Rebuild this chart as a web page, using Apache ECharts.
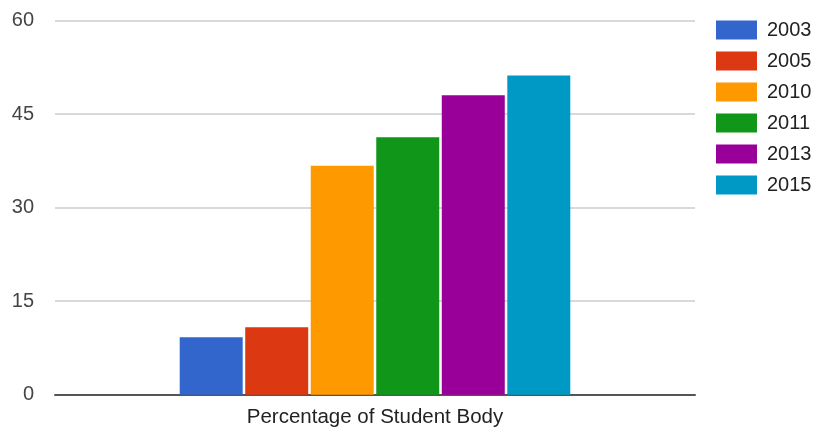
<!DOCTYPE html>
<html>
<head>
<meta charset="utf-8">
<style>
  html, body { margin: 0; padding: 0; background: #ffffff; }
  #chart { width: 816px; height: 428px; }
</style>
<script src="https://cdn.jsdelivr.net/npm/echarts@6/dist/echarts.min.js"></script>
</head>
<body>
<div id="chart"></div>
<script>
// Share of the student body, by survey year
const categories = ['Percentage of Student Body'];
const years = ['2003', '2005', '2010', '2011', '2013', '2015'];
const values = [9.2, 10.8, 36.7, 41.3, 48.0, 51.2];
const colors = ['#3366cc', '#dc3912', '#ff9900', '#109618', '#990099', '#0099c6'];
const yTicks = { min: 0, max: 60, interval: 15 };

const font = 'Arial, "Liberation Sans", sans-serif';

const chart = echarts.init(document.getElementById('chart'), null, { renderer: 'canvas' });

chart.setOption({
  animation: false,
  color: colors,
  grid: { left: 55, right: 121, top: 20.5, bottom: 33.3, containLabel: false },
  legend: {
    orient: 'vertical',
    left: 711,
    top: 15,
    itemWidth: 41,
    itemHeight: 19,
    itemGap: 11,
    icon: 'rect',
    textStyle: { fontFamily: font, fontSize: 20, color: '#222222', padding: [0, 0, 0, 5] },
    data: years
  },
  xAxis: {
    type: 'category',
    data: categories,
    axisTick: { show: false },
    axisLine: { show: true, lineStyle: { color: '#555555', width: 2 } },
    axisLabel: { fontFamily: font, fontSize: 20.5, color: '#222222', margin: 12 }
  },
  yAxis: {
    type: 'value',
    min: yTicks.min,
    max: yTicks.max,
    interval: yTicks.interval,
    axisLine: { show: false },
    axisTick: { show: false },
    splitLine: { lineStyle: { color: '#cccccc', width: 1.5 } },
    axisLabel: { fontFamily: font, fontSize: 20, color: '#444444', margin: 21 }
  },
  series: years.map((y, i) => ({
    name: y,
    type: 'bar',
    data: [values[i]],
    barWidth: 63,
    barGap: '4%',
    itemStyle: { color: colors[i] }
  }))
});
</script>
</body>
</html>
